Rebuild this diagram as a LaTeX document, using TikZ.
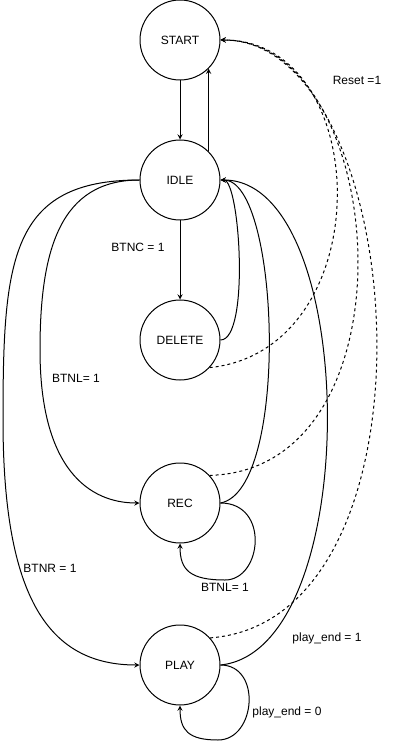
\documentclass[tikz,border=0pt]{standalone}
\usepackage{fontspec}
\setmainfont{Liberation Sans}
\usetikzlibrary{arrows}
\begin{document}
\begin{tikzpicture}[x=0.75pt,y=-0.75pt,line width=0.75pt,
  state/.style={draw,circle,minimum size=60pt,inner sep=0pt,font=\fontsize{9}{11}\selectfont},
  lbl/.style={font=\fontsize{9}{11}\selectfont,inner sep=1pt},
  trans/.style={-stealth},
  reset/.style={-stealth,dash pattern=on 2.25pt off 2.25pt}]
\useasboundingbox (0,0) rectangle (401,741);
\node[state] (start) at (180,40) {START};
\node[state] (idle) at (180,180) {IDLE};
\node[state] (delete) at (180,340) {DELETE};
\node[state] (rec) at (180,503) {REC};
\node[state] (play) at (180,665) {PLAY};
%
\draw[trans] (start.south) -- (idle.north);
\draw[trans] (idle.45.6) -- (start.-45.6);
\draw[trans] (idle.south) -- (delete.north);
\draw[trans] (delete.east) .. controls (250,340) and (240,180) .. (idle.east);
\draw[trans] (rec.east) .. controls (290,490) and (280,180) .. (idle.east);
\draw[trans] (play.east) .. controls (365,650) and (360,180) .. (idle.east);
\draw[trans] (idle.west) .. controls (60,180) and (40,250) .. (40,350) .. controls (40,470) and (90,503) .. (rec.west);
\draw[trans] (idle.west) .. controls (10,180) and (3,260) .. (3,420) .. controls (3,600) and (50,665) .. (play.west);
%
\draw[trans] (rec.east) .. controls (270,503) and (262,580) .. (225,580) .. controls (190,580) and (180,570) .. (rec.south);
\draw[trans] (play.east) .. controls (262,665) and (256,740) .. (218,740) .. controls (188,740) and (180,730) .. (play.south);
%
\draw[reset] (delete.-43) .. controls (380,350) and (375,40) .. (start.east);
\draw[reset] (rec.43) .. controls (420,470) and (390,40) .. (start.east);
\draw[reset] (play.42) .. controls (450,620) and (410,40) .. (start.east);
%
\node[lbl] (resetlbl) at (357,80) {Reset =1};
\node[lbl] (btnclbl) at (138,247) {BTNC = 1};
\node[lbl] (btnllbl) at (76,378) {BTNL= 1};
\node[lbl] (btnrlbl) at (50,568) {BTNR = 1};
\node[lbl] (recloop) at (225,587) {BTNL= 1};
\node[lbl] (endlbl) at (327,638) {play\_end = 1};
\node[lbl] (looplbl) at (287,712) {play\_end = 0};
\end{tikzpicture}
\end{document}
